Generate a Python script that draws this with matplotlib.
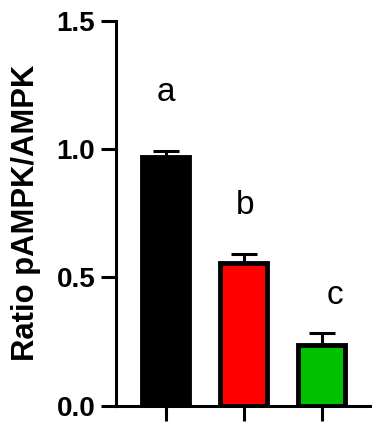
import matplotlib
matplotlib.use("Agg")
import matplotlib.pyplot as plt

# data
grupos = ["G1", "G2", "G3"]
ratio = [0.97, 0.555, 0.237]
error_sup = [0.022, 0.038, 0.047]
colores = ["#000000", "#ff0000", "#00c000"]
letras = ["a", "b", "c"]
letra_x = [0.0, 1.02, 2.17]
letra_y = [1.187, 0.746, 0.398]
ticks_y = [0.0, 0.5, 1.0, 1.5]

plt.rcParams["font.family"] = ["Liberation Sans", "DejaVu Sans"]

fig = plt.figure(figsize=(3.72, 4.25), dpi=100)
ax = fig.add_axes([116 / 372, 19.3 / 425, 1 - 116 / 372, 384.9 / 425])

x = list(range(len(grupos)))
ax.errorbar(x, ratio, yerr=[[0] * 3, error_sup], fmt="none", ecolor="black",
            elinewidth=2.2, capsize=9.5, capthick=2.2, zorder=1)
ax.bar(x, ratio, width=0.6, color=colores, edgecolor="black", linewidth=3.5, zorder=2)

for xi, yi, t in zip(letra_x, letra_y, letras):
    ax.text(xi, yi, t, ha="center", va="baseline", fontsize=24)

ax.set_xlim(-0.637, 2.645)
ax.set_ylim(0, 1.5)
ax.set_xticks(x)
ax.set_xticklabels([""] * 3)
ax.set_yticks(ticks_y)
ax.set_yticklabels([f"{v:.1f}" for v in ticks_y], fontsize=20, fontweight="bold")

for lado in ["top", "right"]:
    ax.spines[lado].set_visible(False)
for lado in ["left", "bottom"]:
    ax.spines[lado].set_linewidth(2.2)
ax.tick_params(width=2.2, length=11, pad=4, direction="out")

fig.text(25.7 / 372, 0.499, "Ratio pAMPK/AMPK", rotation=90, ha="center", va="center",
         fontsize=22.3, fontweight="bold")

fig.savefig("out.png", dpi=100)
